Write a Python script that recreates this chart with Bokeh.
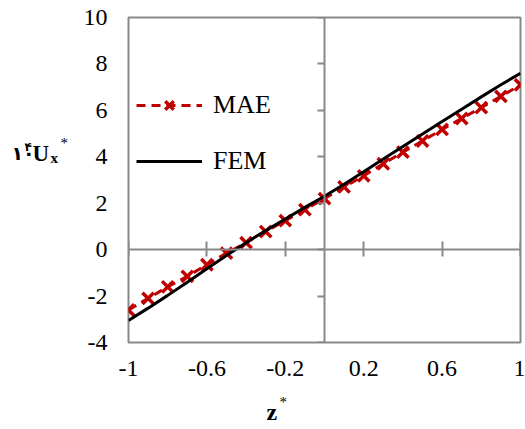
from bokeh.plotting import figure
from bokeh.layouts import row, column
from bokeh.models import LinearAxis, FixedTicker, Range1d, Label, Legend, LegendItem
from bokeh.embed import file_html
from bokeh.resources import INLINE

# data
z = [-1.0, -0.9, -0.8, -0.7, -0.6, -0.5, -0.4, -0.3, -0.2, -0.1, 0.0,
     0.1, 0.2, 0.3, 0.4, 0.5, 0.6, 0.7, 0.8, 0.9, 1.0]
mae = [-2.6, -2.1, -1.6, -1.15, -0.65, -0.15, 0.3, 0.78, 1.25, 1.72, 2.2,
       2.7, 3.18, 3.7, 4.2, 4.68, 5.18, 5.65, 6.12, 6.6, 7.1]
fem = [-3.05, -2.52, -1.97, -1.4, -0.82, -0.25, 0.3, 0.82, 1.32, 1.82, 2.3,
       2.82, 3.36, 3.9, 4.44, 4.98, 5.52, 6.05, 6.58, 7.1, 7.6]
x_ticks = [-1, -0.6, -0.2, 0.2, 0.6, 1]
y_ticks = [-4, -2, 0, 2, 4, 6, 8, 10]
series_names = ["MAE", "FEM"]

GRAY = "#898989"
RED = "#C00000"
FONT = "Liberation Serif"

W, H = 525, 429
LEFT_W = 75
MAIN_H = 388
ROW_GAP = 7  # observed vertical offset of the second layout row

p = figure(width=W - LEFT_W, height=MAIN_H, output_backend="svg", toolbar_location=None,
           x_range=Range1d(-1, 1), y_range=Range1d(-4, 10),
           x_axis_type=None, y_axis_type=None,
           min_border_left=128 - LEFT_W, min_border_right=5, min_border_top=17,
           min_border_bottom=MAIN_H - 342)
p.grid.visible = False
p.outline_line_color = GRAY
p.outline_line_width = 2
p.background_fill_color = "white"
p.border_fill_color = "white"

# outer label axes (labels only)
xb = LinearAxis(ticker=FixedTicker(ticks=x_ticks),
                major_label_overrides={t: str(t) for t in x_ticks})
xb.axis_line_color = None
xb.major_tick_line_color = None
xb.major_tick_in = 0
xb.major_tick_out = 0
xb.minor_tick_line_color = None
xb.major_label_standoff = 18
xb.major_label_text_font = FONT
xb.major_label_text_font_size = "24px"
xb.major_label_text_color = "black"
p.add_layout(xb, "below")

yl = LinearAxis(ticker=FixedTicker(ticks=y_ticks),
                major_label_overrides={t: str(t) for t in y_ticks})
yl.axis_line_color = None
yl.major_tick_line_color = None
yl.major_tick_in = 0
yl.major_tick_out = 0
yl.minor_tick_line_color = None
yl.major_label_standoff = 21
yl.major_label_text_font = FONT
yl.major_label_text_font_size = "24px"
yl.major_label_text_color = "black"
p.add_layout(yl, "left")

# crossing axes through zero
xc = LinearAxis(ticker=FixedTicker(ticks=x_ticks), fixed_location=0)
xc.axis_line_color = GRAY
xc.axis_line_width = 2
xc.major_tick_line_color = GRAY
xc.major_tick_line_width = 2
xc.major_tick_in = 7
xc.major_tick_out = 8
xc.minor_tick_line_color = None
xc.major_label_standoff = 0
xc.major_label_text_font_size = "0px"
xc.major_label_text_color = None
p.add_layout(xc, "above")

yc = LinearAxis(ticker=FixedTicker(ticks=y_ticks), fixed_location=0)
yc.axis_line_color = GRAY
yc.axis_line_width = 2
yc.major_tick_line_color = GRAY
yc.major_tick_line_width = 2
yc.major_tick_in = 7
yc.major_tick_out = 0
yc.minor_tick_line_color = None
yc.major_label_standoff = 0
yc.major_label_text_font_size = "0px"
yc.major_label_text_color = None
p.add_layout(yc, "right")

# series
r_mae_line = p.line(z, mae, line_color=RED, line_width=3, line_dash="9 6")
r_mae_pts = p.scatter(z, mae, marker="x", size=16, line_color=RED, line_width=3.5)
r_fem = p.line(z, fem, line_color="black", line_width=3)

legend = Legend(items=[LegendItem(label=series_names[0], renderers=[r_mae_line, r_mae_pts]),
                       LegendItem(label=series_names[1], renderers=[r_fem])],
                location=(8, 166), orientation="vertical",
                label_text_font=FONT, label_text_font_size="26px",
                label_text_color="black",
                glyph_width=66, glyph_height=30, label_height=30,
                spacing=26, padding=8,
                label_standoff=11, border_line_color=None,
                background_fill_alpha=0)
p.add_layout(legend, "center")


def text_panel(width, height):
    f = figure(width=width, height=height, output_backend="svg", toolbar_location=None,
               x_range=Range1d(0, width), y_range=Range1d(height, 0),
               x_axis_type=None, y_axis_type=None,
               min_border=0, min_border_left=0, min_border_right=0,
               min_border_top=0, min_border_bottom=0)
    f.grid.visible = False
    f.outline_line_color = None
    f.background_fill_color = "white"
    f.border_fill_color = "white"
    return f


def lab(f, x, y, text, size, bold=True, font=FONT):
    f.add_layout(Label(x=x, y=y, text=text,
                       text_font=font, text_font_size=size,
                       text_font_style="bold" if bold else "normal",
                       text_color="black", text_baseline="alphabetic",
                       text_align="left"))


# y title: 10^4 Ux*  (Persian digits)
left = text_panel(LEFT_W, MAIN_H)
lab(left, 11, 162, "۱۰", "19px", font="DejaVu Sans")
lab(left, 24, 155, "۴", "12px", font="DejaVu Sans")
lab(left, 32, 162, "U", "23px")
lab(left, 50, 168, "x", "15px")
lab(left, 60, 150, "*", "15px", bold=False)

# x title: z*
BOT_H = H - MAIN_H
top0 = MAIN_H + ROW_GAP
bottom = text_panel(W, BOT_H)
lab(bottom, 266, 418 - top0, "z", "24px")
lab(bottom, 279, 408 - top0, "*", "15px", bold=False)

layout = column(row(left, p), bottom)
open("out.html", "w").write(file_html(layout, INLINE))
